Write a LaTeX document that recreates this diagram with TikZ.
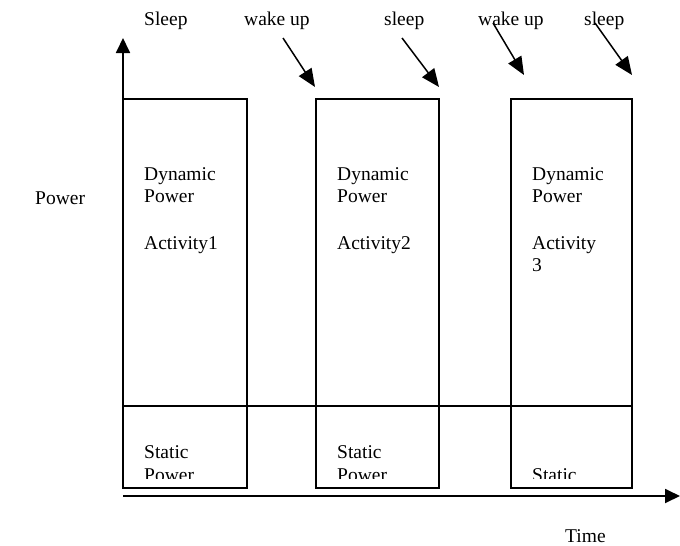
\documentclass[tikz,border=0pt]{standalone}
\usepackage{fontspec}
\setmainfont{Liberation Serif}
\usetikzlibrary{arrows.meta}
\begin{document}
\begin{tikzpicture}[x=1pt,y=-1pt,
  txt/.style={font=\fontsize{19.5}{22}\selectfont, anchor=base west, inner sep=0pt},
  boxshape/.style={draw, line width=1.5pt, anchor=north west, inner sep=0pt, outer sep=0pt},
  axis/.style={line width=1.8pt, -{Triangle[length=15pt,width=14pt]}},
  pointer/.style={line width=1.5pt, -{Triangle[length=18pt,width=15pt]}}]
\path[use as bounding box] (0,0) rectangle (680,546);
% boxes
\node[boxshape, minimum width=124pt, minimum height=389pt] (b1) at (123,99) {};
\node[boxshape, minimum width=123pt, minimum height=389pt] (b2) at (316,99) {};
\node[boxshape, minimum width=121pt, minimum height=389pt] (b3) at (511,99) {};
% divider between dynamic and static power
\coordinate (dl) at (123,406);
\coordinate (dr) at (632,406);
\draw[line width=1.5pt] (dl) -- (dr);
% axes
\coordinate (ytip) at (123,38);
\draw[axis] (b1.south west) -- (ytip);
\coordinate (xo) at (123,496);
\coordinate (xtip) at (680,496);
\draw[axis] (xo) -- (xtip);
% axis labels
\node[txt] (plab) at (35,204) {Power};
\node[txt] (tlab) at (565,542) {Time};
% top labels
\node[txt] (l1) at (144,25) {Sleep};
\node[txt] (l2) at (244,25) {wake up};
\node[txt] (l3) at (384,25) {sleep};
\node[txt] (l4) at (478,25) {wake up};
\node[txt] (l5) at (584,25) {sleep};
% pointers
\coordinate (s1) at (283,38);  \coordinate (e1) at (315,87);
\coordinate (s2) at (402,38);  \coordinate (e2) at (439,87);
\coordinate (s3) at (493,23);  \coordinate (e3) at (524,75);
\coordinate (s4) at (595,23);  \coordinate (e4) at (632,75);
\draw[pointer] (s1) -- (e1);
\draw[pointer] (s2) -- (e2);
\draw[pointer] (s3) -- (e3);
\draw[pointer] (s4) -- (e4);
% dynamic power texts
\node[txt] (d1a) at (144,180) {Dynamic};
\node[txt] (d1b) at (144,202) {Power};
\node[txt] (d1c) at (144,249) {Activity1};
\node[txt] (d2a) at (337,180) {Dynamic};
\node[txt] (d2b) at (337,202) {Power};
\node[txt] (d2c) at (337,249) {Activity2};
\node[txt] (d3a) at (532,180) {Dynamic};
\node[txt] (d3b) at (532,202) {Power};
\node[txt] (d3c) at (532,249) {Activity};
\node[txt] (d3d) at (532,271) {3};
% static power texts (clipped)
\begin{scope}
\clip (120,400) rectangle (640,478);
\node[txt] (s1a) at (144,458) {Static};
\node[txt] (s1b) at (144,481) {Power};
\node[txt] (s2a) at (337,458) {Static};
\node[txt] (s2b) at (337,481) {Power};
\node[txt] (s3a) at (532,481) {Static};
\end{scope}
\end{tikzpicture}
\end{document}
